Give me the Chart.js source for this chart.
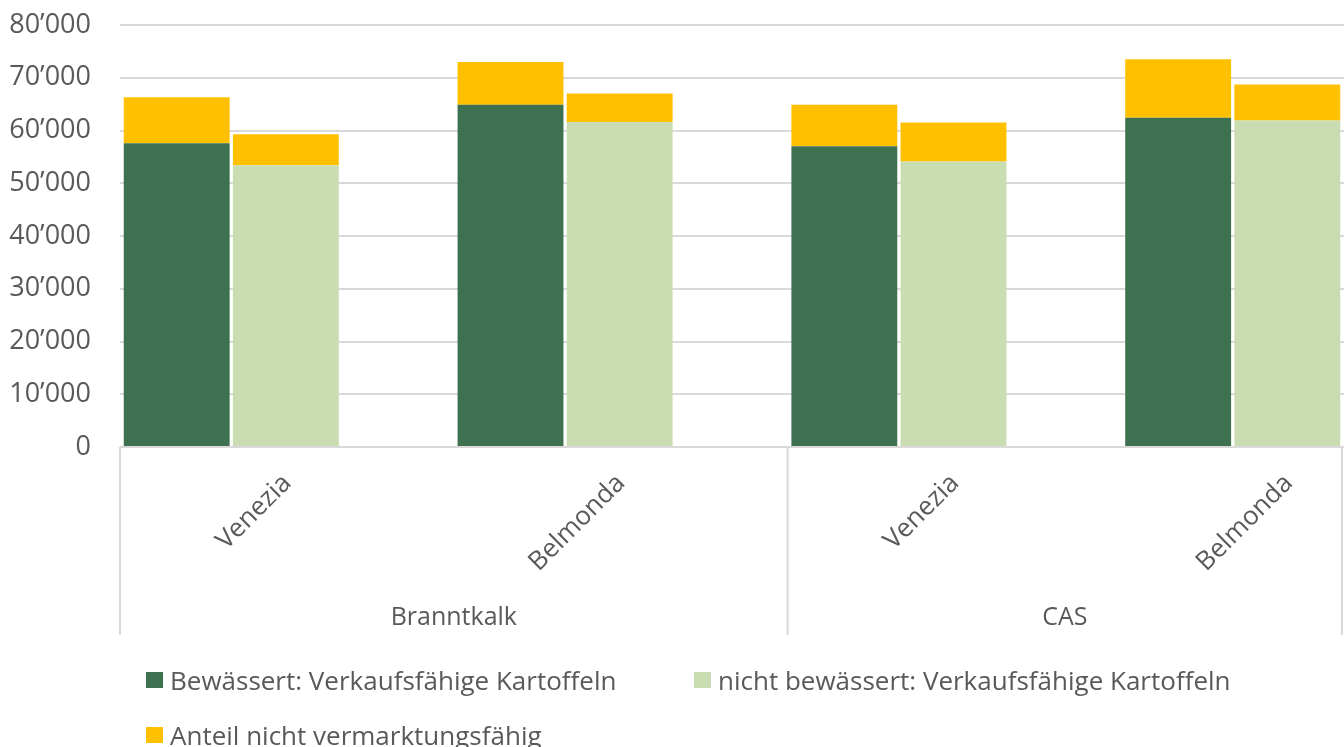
<!DOCTYPE html>
<html>
<head>
<meta charset="utf-8">
<script src="https://cdn.jsdelivr.net/npm/chart.js@4.4.1/dist/chart.umd.min.js"></script>
<style>
body { margin: 0; background: #fff; overflow: hidden; }
#wrap { position: relative; width: 1344px; height: 747px; }
.legend-item { position: absolute; display: flex; align-items: center; font-family: "Open Sans"; font-size: 26px; color: #595959; white-space: nowrap; line-height: 1; }
.legend-item .box { width: 17px; height: 16px; margin-right: 7px; }
</style>
</head>
<body>
<div id="wrap">
    <canvas id="chart"></canvas>
    <div id="legend"></div>
</div>
<script>
const groups = ['Branntkalk', 'CAS'];
const varieties = ['Venezia', 'Belmonda', 'Venezia', 'Belmonda'];
const groupBounds = [-1 / 3, 5 / 3, 10 / 3];

const bewVerkauf = [57600, 64900, 57000, 62400];
const bewAnteil = [8700, 8100, 7900, 11100];
const nichtVerkauf = [53400, 61600, 54100, 61900];
const nichtAnteil = [5900, 5400, 7400, 6800];

const yTicks = [0, 10000, 20000, 30000, 40000, 50000, 60000, 70000, 80000];

const textColor = '#595959';
const gridColor = '#d9d9d9';
const dark = '#3e7150';
const light = '#cadcb1';
const yellow = '#ffc000';

const fmt = v => String(v).replace(/\B(?=(\d{3})+(?!\d))/g, '\u2019');
const pts = arr => arr.map((v, i) => ({ x: i, y: v }));

// Beschriftung der x-Achse (zweistufig) + Trennlinien
const axisLabels = {
    id: 'axisLabels',
    afterDraw(chart) {
        const { ctx, chartArea } = chart;
        const x = chart.scales.x;
        ctx.save();
        ctx.fillStyle = textColor;
        ctx.font = '26px "Open Sans"';
        varieties.forEach((v, i) => {
            const px = x.getPixelForValue(i);
            ctx.save();
            ctx.translate(px + 56, chartArea.bottom + 32);
            ctx.rotate(-Math.PI / 4);
            ctx.textAlign = 'right';
            ctx.textBaseline = 'middle';
            ctx.fillText(v, 0, 0);
            ctx.restore();
        });

        ctx.strokeStyle = gridColor;
        ctx.lineWidth = 2;
        groupBounds.forEach(b => {
            const px = Math.min(x.getPixelForValue(b), chart.width - 2);
            ctx.beginPath();
            ctx.moveTo(px, chartArea.bottom);
            ctx.lineTo(px, chartArea.bottom + 188);
            ctx.stroke();
        });

        ctx.font = '25px "Open Sans"';
        ctx.textAlign = 'center';
        ctx.textBaseline = 'alphabetic';
        groups.forEach((g, i) => {
            const a = x.getPixelForValue(groupBounds[i]);
            const b = Math.min(x.getPixelForValue(groupBounds[i + 1]), chart.width - 2);
            ctx.fillText(g, (a + b) / 2, chartArea.bottom + 178);
        });
        ctx.restore();
    }
};

const chart = new Chart(document.getElementById('chart'), {
    type: 'bar',
    data: {
        datasets: [
            { label: 'Bewässert: Verkaufsfähige Kartoffeln', data: pts(bewVerkauf), backgroundColor: dark, stack: 'bew' },
            { label: 'Anteil nicht vermarktungsfähig', data: pts(bewAnteil), backgroundColor: yellow, stack: 'bew' },
            { label: 'nicht bewässert: Verkaufsfähige Kartoffeln', data: pts(nichtVerkauf), backgroundColor: light, stack: 'nicht' },
            { label: 'Anteil nicht vermarktungsfähig', data: pts(nichtAnteil), backgroundColor: yellow, stack: 'nicht' }
        ]
    },
    options: {
        responsive: true,
        maintainAspectRatio: false,
        animation: false,
        categoryPercentage: 0.654,
        barPercentage: 0.97,
        layout: { padding: { top: 25, right: 0, left: 0, bottom: 0 } },
        scales: {
            x: {
                type: 'linear',
                stacked: true,
                offset: false,
                min: groupBounds[0],
                max: groupBounds[2],
                afterBuildTicks: s => { s.ticks = varieties.map((_, i) => ({ value: i })); },
                afterFit: s => { s.height = 300; },
                ticks: { display: false },
                grid: { display: false },
                border: { display: false }
            },
            y: {
                stacked: true,
                min: 0,
                max: 80000,
                afterBuildTicks: s => { s.ticks = yTicks.map(v => ({ value: v })); },
                afterFit: s => { s.width = 120; s.paddingTop = 0; s.paddingBottom = 0; },
                ticks: {
                    padding: 29,
                    color: textColor,
                    font: { family: 'Open Sans', size: 27 },
                    callback: v => fmt(v)
                },
                grid: { color: gridColor, lineWidth: 2, drawTicks: false },
                border: { display: false }
            }
        },
        plugins: {
            legend: { display: false },
            tooltip: { enabled: false }
        }
    },
    plugins: [axisLabels]
});

// Legende
const legendItems = [
    { ds: 0, left: 146, top: 672 },
    { ds: 2, left: 694, top: 672 },
    { ds: 1, left: 146, top: 727 }
];
const legendEl = document.getElementById('legend');
legendItems.forEach(it => {
    const ds = chart.data.datasets[it.ds];
    const el = document.createElement('div');
    el.className = 'legend-item';
    el.style.left = it.left + 'px';
    el.style.top = (it.top - 5) + 'px';
    el.innerHTML = `<span class="box" style="background:${ds.backgroundColor}"></span>${ds.label}`;
    legendEl.appendChild(el);
});
</script>
</body>
</html>
